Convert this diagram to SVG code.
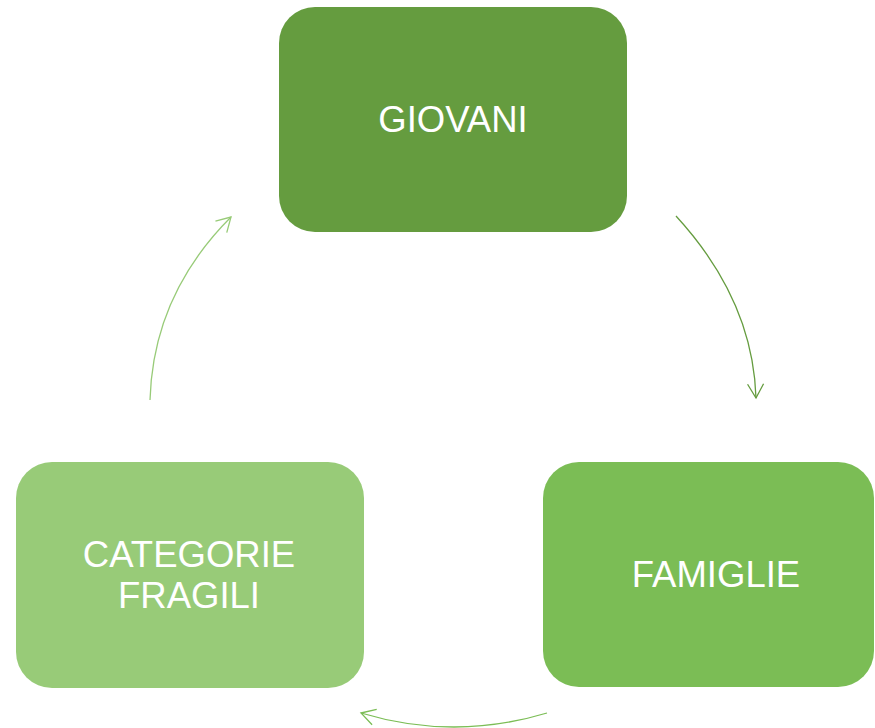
<svg xmlns="http://www.w3.org/2000/svg" width="875" height="728" viewBox="0 0 875 728">
<style>
.lbl{font-family:"Liberation Sans",Arial,sans-serif;font-size:36.5px;fill:#ffffff;text-anchor:middle}
.con{fill:none;stroke-width:1.3}
</style>
<defs>
<marker id="m1" markerUnits="userSpaceOnUse" viewBox="0 0 20 16" markerWidth="20" markerHeight="16" refX="16" refY="8" orient="auto" overflow="visible"><path d="M2,0 L16,8 L2,16" fill="none" stroke="#659c3f" stroke-width="1.3"/></marker>
<marker id="m2" markerUnits="userSpaceOnUse" viewBox="0 0 20 16" markerWidth="20" markerHeight="16" refX="16" refY="8" orient="auto" overflow="visible"><path d="M2,0 L16,8 L2,16" fill="none" stroke="#7bbd55" stroke-width="1.3"/></marker>
<marker id="m3" markerUnits="userSpaceOnUse" viewBox="0 0 20 16" markerWidth="20" markerHeight="16" refX="16" refY="8" orient="auto" overflow="visible"><path d="M2,0 L16,8 L2,16" fill="none" stroke="#98cb78" stroke-width="1.3"/></marker>
</defs>
<rect width="875" height="728" fill="#ffffff"/>
<g id="connectors">
<path class="con" stroke="#659c3f" d="M676,216 Q753,300 756,398" marker-end="url(#m1)"/>
<path class="con" stroke="#7bbd55" d="M547,713 Q454,741 361,713" marker-end="url(#m2)"/>
<path class="con" stroke="#98cb78" d="M150,400 Q153,295 231,217" marker-end="url(#m3)"/>
</g>
<g id="giovani">
<rect x="279" y="7" width="348" height="225" rx="36" fill="#659c3f"/>
<text class="lbl" x="453" y="132">GIOVANI</text>
</g>
<g id="famiglie">
<rect x="543" y="462" width="331" height="225" rx="36" fill="#7bbd55"/>
<text class="lbl" x="716" y="587">FAMIGLIE</text>
</g>
<g id="categorie-fragili">
<rect x="16" y="462" width="348" height="226" rx="36" fill="#98cb78"/>
<text class="lbl" x="189" y="567">CATEGORIE</text>
<text class="lbl" x="189" y="608">FRAGILI</text>
</g>
</svg>
